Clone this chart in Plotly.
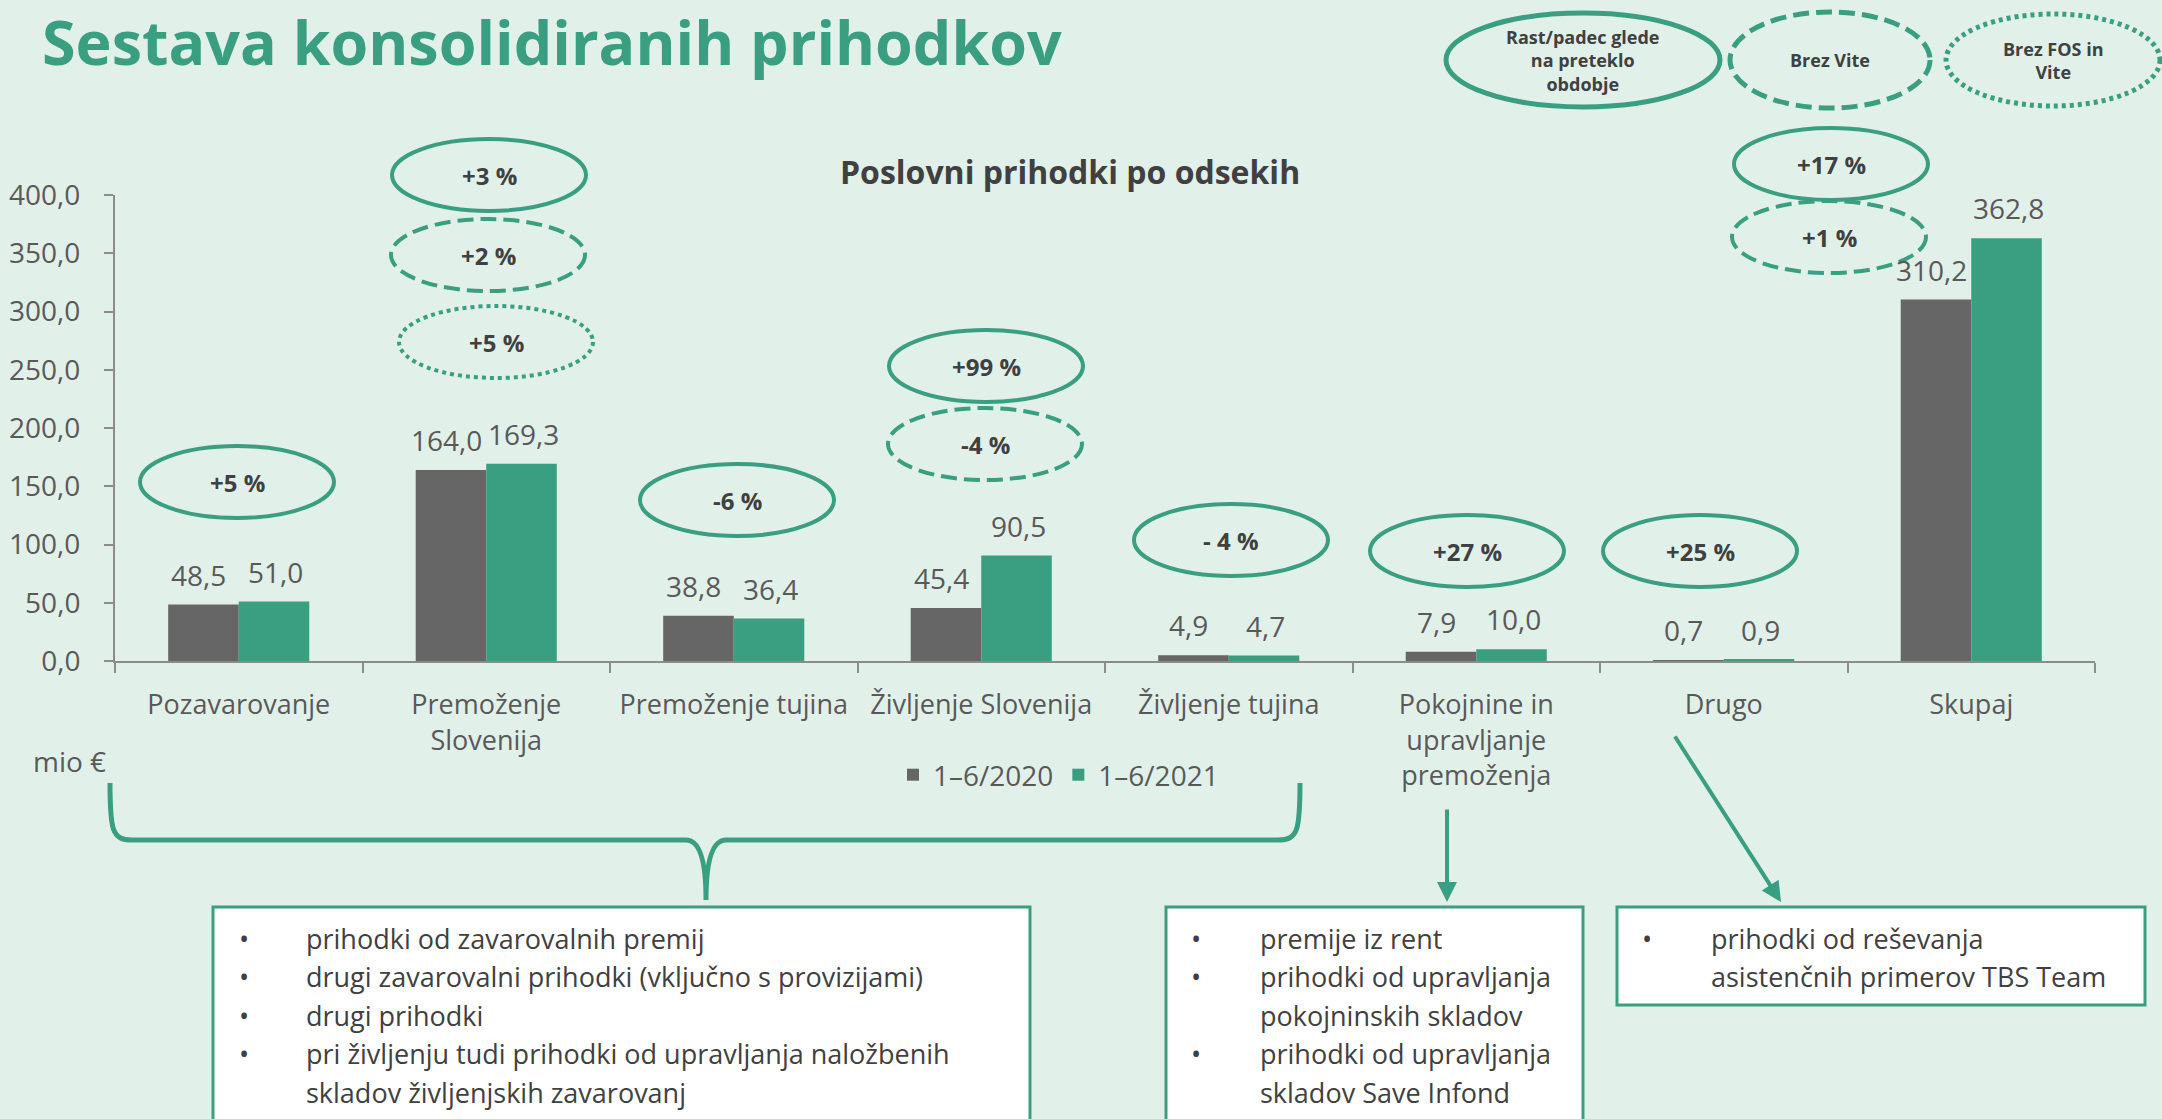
import plotly.graph_objects as go

# --- podatki ---
categories = ["Pozavarovanje", "Premoženje<br>Slovenija", "Premoženje tujina", "Življenje Slovenija",
              "Življenje tujina", "Pokojnine in<br>upravljanje<br>premoženja", "Drugo", "Skupaj"]
h1_2020 = [48.5, 164.0, 38.8, 45.4, 4.9, 7.9, 0.7, 310.2]
h1_2021 = [51.0, 169.3, 36.4, 90.5, 4.7, 10.0, 0.9, 362.8]
series_names = ["1–6/2020", "1–6/2021"]
y_ticks = [0, 50, 100, 150, 200, 250, 300, 350, 400]

growth_labels = ["+5 %", "+3 %", "+2 %", "+5 %", "-6 %", "+99 %", "-4 %", "- 4 %",
                 "+27 %", "+25 %", "+17 %", "+1 %"]
growth_styles = ["solid", "solid", "dash", "dot", "solid", "solid", "dash", "solid",
                 "solid", "solid", "solid", "dash"]
key_labels = ["Rast/padec glede<br>na preteklo<br>obdobje", "Brez Vite", "Brez FOS in<br>Vite"]
key_styles = ["solid", "dash", "dot"]

box_life = [["prihodki od zavarovalnih premij"],
            ["drugi zavarovalni prihodki (vključno s provizijami)"],
            ["drugi prihodki"],
            ["pri življenju tudi prihodki od upravljanja naložbenih", "skladov življenjskih zavarovanj"]]
box_pension = [["premije iz rent"],
               ["prihodki od upravljanja", "pokojninskih skladov"],
               ["prihodki od upravljanja", "skladov Save Infond"]]
box_other = [["prihodki od reševanja", "asistenčnih primerov TBS Team"]]

# --- postavitev (piksli na sliki) ---
W, H = 2162, 1119
L, R, T, B = 115, 2095, 195, 661
GREEN = "#3a9f80"
GREY = "#666666"
BG = "#e2f0ea"
TXT = "#595959"
DARK = "#404040"
FONT = "Open Sans"


def px_x(x):
    return (x - L) / (R - L)


def px_y(y):
    return (B - y) / (B - T)


def note(x, y, text, size, color=DARK, xanchor="center"):
    return dict(x=px_x(x), y=px_y(y), xref="paper", yref="paper", xanchor=xanchor,
                yanchor="middle", showarrow=False, text=text, borderpad=0,
                font=dict(size=size, color=color))


DASHES = {"solid": "solid", "dash": "16px,7px", "dot": "4px,4px"}

fig = go.Figure()
fig.add_trace(go.Bar(x=categories, y=h1_2020, name=series_names[0],
                     marker=dict(color=GREY, line=dict(width=0))))
fig.add_trace(go.Bar(x=categories, y=h1_2021, name=series_names[1],
                     marker=dict(color=GREEN, line=dict(width=0))))

annotations = []
shapes = []

# vrednosti nad stolpci
for cat, v0, v1 in zip(categories, h1_2020, h1_2021):
    for v, dx in ((v0, -40), (v1, 37)):
        annotations.append(dict(x=cat, y=v, xref="x", yref="y", xshift=dx, yshift=9,
                                xanchor="center", yanchor="bottom", showarrow=False,
                                text=f"{v:.1f}".replace(".", ","),
                                font=dict(size=28, color=TXT)))

# elipse z rastjo
growth_pos = [(237, 482), (489, 175), (488, 255), (496, 342), (737, 500), (986, 366),
              (985, 444), (1231, 540), (1467, 551), (1700, 551), (1831, 164), (1829, 237)]
for lab, sty, (cx, cy) in zip(growth_labels, growth_styles, growth_pos):
    rx, ry = 97, 36
    shapes.append(dict(type="circle", xref="paper", yref="paper",
                       x0=px_x(cx - rx), x1=px_x(cx + rx), y0=px_y(cy + ry), y1=px_y(cy - ry),
                       line=dict(color=GREEN, width=4, dash=DASHES[sty])))
    annotations.append(note(cx, cy, f"<b>{lab}</b>", 24))

# legenda elips zgoraj desno
key_pos = [(1583, 60, 137, 47), (1830, 60, 100, 48), (2053, 60, 107, 46)]
for lab, sty, (cx, cy, rx, ry) in zip(key_labels, key_styles, key_pos):
    shapes.append(dict(type="circle", xref="paper", yref="paper",
                       x0=px_x(cx - rx), x1=px_x(cx + rx), y0=px_y(cy + ry), y1=px_y(cy - ry),
                       line=dict(color=GREEN, width=5, dash=DASHES[sty])))
    annotations.append(note(cx, cy, f"<b>{lab}</b>", 18))

# naslovi
annotations.append(note(41, 41, "<b>Sestava konsolidiranih prihodkov</b>", 61, GREEN, "left"))
annotations.append(note(1070, 171, "<b>Poslovni prihodki po odsekih</b>", 32))
annotations.append(note(32, 761, "mio €", 28, TXT, "left"))


# zaviti oklepaj
def brace_path():
    p = f"M {px_x(110)},{px_y(783)} C {px_x(110)},{px_y(830)} {px_x(112)},{px_y(840)} {px_x(132)},{px_y(840)}"
    p += f" L {px_x(686)},{px_y(840)} Q {px_x(706)},{px_y(840)} {px_x(706)},{px_y(900)}"
    p += f" Q {px_x(706)},{px_y(840)} {px_x(726)},{px_y(840)} L {px_x(1278)},{px_y(840)}"
    p += f" C {px_x(1298)},{px_y(840)} {px_x(1300)},{px_y(830)} {px_x(1300)},{px_y(783)}"
    return p


shapes.append(dict(type="path", xref="paper", yref="paper", path=brace_path(),
                   line=dict(color=GREEN, width=5)))

# puščici
annotations.append(dict(x=px_x(1447), y=px_y(902), xref="paper", yref="paper", ax=0, ay=-94,
                        text="", showarrow=True, arrowhead=2, arrowsize=1, arrowwidth=4,
                        arrowcolor=GREEN, standoff=0))
annotations.append(dict(x=px_x(1781), y=px_y(902), xref="paper", yref="paper", ax=-107, ay=-167,
                        text="", showarrow=True, arrowhead=2, arrowsize=1, arrowwidth=4,
                        arrowcolor=GREEN, standoff=0))

# okvirji z opisi
boxes = [(box_life, 213, 1030, 907, 1140, 238, 305),
         (box_pension, 1166, 1583, 907, 1140, 1190, 1259),
         (box_other, 1617, 2145, 907, 1005, 1641, 1710)]
for items, x0, x1, y0, y1, bx, tx in boxes:
    shapes.append(dict(type="rect", xref="paper", yref="paper",
                       x0=px_x(x0), x1=px_x(x1), y0=px_y(y1), y1=px_y(y0),
                       fillcolor="white", line=dict(color=GREEN, width=3)))
    y = 938
    for item in items:
        annotations.append(note(bx, y, "•", 27, DARK, "left"))
        for line in item:
            annotations.append(note(tx, y, line, 27, DARK, "left"))
            y += 38.5

fig.update_layout(
    width=W, height=H,
    margin=dict(l=L, r=W - R, t=T, b=H - B, autoexpand=False),
    paper_bgcolor=BG, plot_bgcolor=BG,
    font=dict(family=FONT, size=28, color=TXT),
    separators=",.",
    barmode="group", bargap=0.43, bargroupgap=0,
    showlegend=True,
    legend=dict(orientation="h", x=px_x(893), y=px_y(775), xanchor="left", yanchor="middle",
                font=dict(size=28, color=TXT), bgcolor="rgba(0,0,0,0)"),
    annotations=annotations,
    shapes=shapes,
)
fig.update_xaxes(type="category", showline=True, linecolor="#8c8c8c", linewidth=2,
                 ticks="outside", tickson="boundaries", ticklen=10, tickwidth=2,
                 tickcolor="#8c8c8c", showgrid=False, zeroline=False, automargin=False,
                 ticklabelstandoff=19, tickfont=dict(size=27, color=TXT))
fig.update_yaxes(range=[0, 400], tickvals=y_ticks, tickformat=".1f", showline=True,
                 linecolor="#8c8c8c", linewidth=2, ticks="outside", ticklen=9, tickwidth=2,
                 tickcolor="#8c8c8c", showgrid=False, zeroline=False, automargin=False,
                 ticklabelstandoff=18, tickfont=dict(size=28, color=TXT))

fig.write_html("out.html", config={"displayModeBar": False},
               post_script="document.body.style.margin='0px';document.body.style.overflow='hidden';")
